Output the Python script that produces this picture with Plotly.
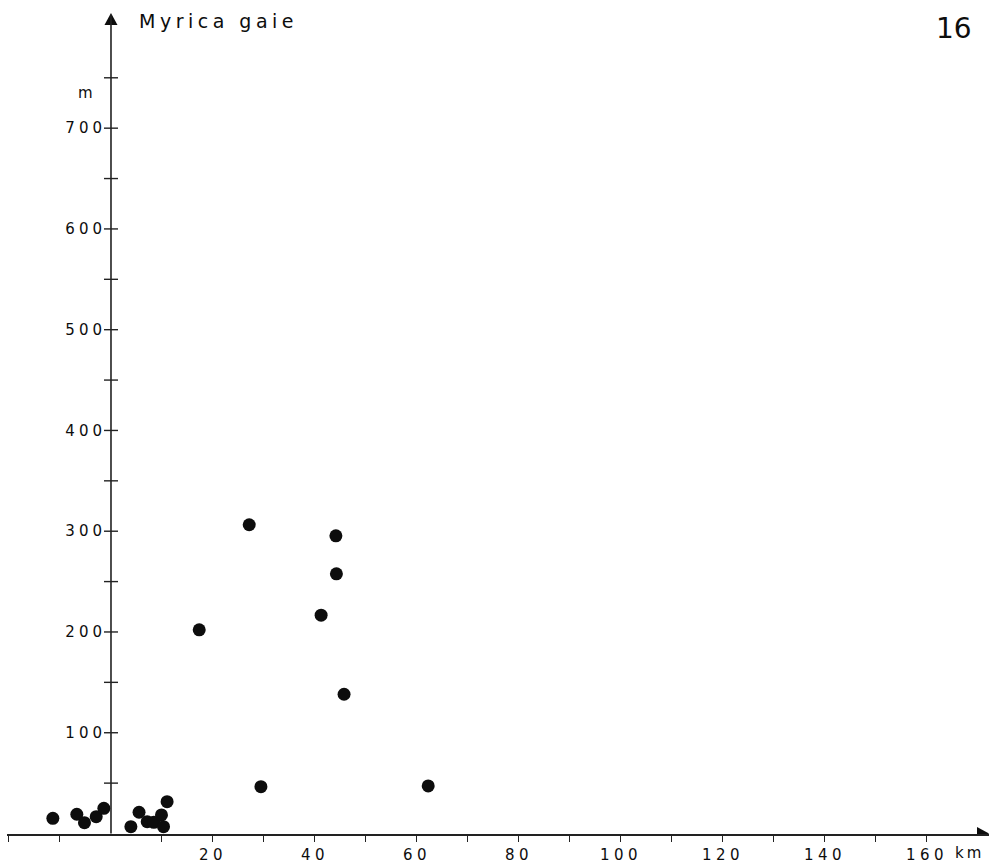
import plotly.graph_objects as go

# Distance from the coast (km) and altitude (m) of each Myrica gale record
distance_km = [-11.4, -6.7, -5.2, -2.9, -1.4,
               3.9, 5.5, 7.1, 8.4, 9.9, 10.3, 11.0,
               17.3, 27.1, 29.4, 41.2, 44.1, 44.2, 45.7, 62.2]
altitude_m = [15.1, 19.1, 10.7, 16.7, 25.0,
              6.8, 21.1, 11.7, 11.1, 18.4, 6.8, 31.6,
              202.1, 306.4, 46.5, 216.7, 295.4, 257.7, 138.2, 47.2]

x_tick_vals = [-20, -10, 10, 20, 30, 40, 50, 60, 70, 80, 90, 100, 110, 120, 130, 140, 150, 160]
x_labelled = [20, 40, 60, 80, 100, 120, 140, 160]
y_tick_vals = [50, 100, 150, 200, 250, 300, 350, 400, 450, 500, 550, 600, 650, 700, 750]
y_labelled = [100, 200, 300, 400, 500, 600, 700]

W, H = 999, 864
ML, MR, MT, MB = 7, 10, 13, 30
X_RANGE = [-20.39, 172.16]
Y_RANGE = [-0.5, 814.3]
KM_PX = (W - ML - MR) / (X_RANGE[1] - X_RANGE[0])
M_PX = (H - MT - MB) / (Y_RANGE[1] - Y_RANGE[0])

INK = "#0d0d0d"
AXIS = "#222222"
FONT = "DejaVu Sans, Verdana, sans-serif"


def spaced(text, px):
    return f'<span style="letter-spacing:{px}px">{text}</span>'


x_tick_text = [spaced(str(v), 4.5) if v in x_labelled else "" for v in x_tick_vals]
y_tick_text = [spaced(str(v), 4) if v in y_labelled else "" for v in y_tick_vals]

fig = go.Figure()

# Cross-shaped ticks on the vertical axis
fig.add_trace(go.Scatter(
    x=[0] * len(y_tick_vals), y=y_tick_vals, mode="markers",
    marker=dict(symbol="line-ew", size=10, line=dict(color=AXIS, width=1.4)),
    hoverinfo="skip", showlegend=False,
))

# Records
fig.add_trace(go.Scatter(
    x=distance_km, y=altitude_m, mode="markers",
    marker=dict(color=INK, size=13, line=dict(width=0)),
    showlegend=False,
))

# Arrow heads at the ends of both axes
ax_len, ax_half = 12 / KM_PX, 6.5 / M_PX
ay_len, ay_half = 12 / M_PX, 6.5 / KM_PX
xt, yt = X_RANGE[1], Y_RANGE[1]
fig.add_shape(type="path", xref="x", yref="y",
              path=f"M {xt} 0 L {xt - ax_len} {ax_half} L {xt - ax_len} {-ax_half} Z",
              fillcolor=INK, line=dict(width=0))
fig.add_shape(type="path", xref="x", yref="y",
              path=f"M 0 {yt} L {-ay_half} {yt - ay_len} L {ay_half} {yt - ay_len} Z",
              fillcolor=INK, line=dict(width=0))
# Vertical axis line
fig.add_shape(type="line", xref="x", yref="y", x0=0, x1=0, y0=0, y1=yt - 2,
              line=dict(color=AXIS, width=1.6))

fig.update_layout(
    width=W, height=H,
    margin=dict(l=ML, r=MR, t=MT, b=MB, autoexpand=False),
    paper_bgcolor="white", plot_bgcolor="white",
    font=dict(family=FONT, color=INK, size=15),
    xaxis=dict(
        range=X_RANGE, showgrid=False, zeroline=False, automargin=False,
        showline=True, linecolor=AXIS, linewidth=1.6,
        ticks="outside", ticklen=6, tickwidth=1.4, tickcolor=AXIS,
        tickvals=x_tick_vals, ticktext=x_tick_text,
        ticklabelstandoff=0,
        tickfont=dict(size=15, family=FONT, color=INK),
    ),
    yaxis=dict(
        range=Y_RANGE, showgrid=False, zeroline=False, showline=False, automargin=False,
        anchor="free", position=(0 - X_RANGE[0]) / (X_RANGE[1] - X_RANGE[0]),
        ticks="", tickvals=y_tick_vals, ticktext=y_tick_text,
        ticklabelstandoff=5,
        tickfont=dict(size=15, family=FONT, color=INK),
    ),
    annotations=[
        dict(text=spaced("Myrica gaie", 4.5), x=0, xref="x", xanchor="left", xshift=26,
             y=1, yref="paper", yanchor="middle", yshift=-8, showarrow=False,
             font=dict(size=19, family=FONT, color=INK)),
        dict(text="16", x=1, xref="paper", xanchor="right", xshift=-15,
             y=1, yref="paper", yanchor="middle", yshift=-15, showarrow=False,
             font=dict(size=28, family=FONT, color=INK)),
        dict(text="m", x=0, xref="x", xanchor="center", xshift=-25,
             y=735, yref="y", yanchor="middle", showarrow=False,
             font=dict(size=15, family=FONT, color=INK)),
        dict(text=spaced("km", 3), x=160, xref="x", xanchor="left", xshift=26,
             y=0, yref="y", yanchor="middle", yshift=-19, showarrow=False,
             font=dict(size=15, family=FONT, color=INK)),
    ],
)

fig.write_html("out.html")
